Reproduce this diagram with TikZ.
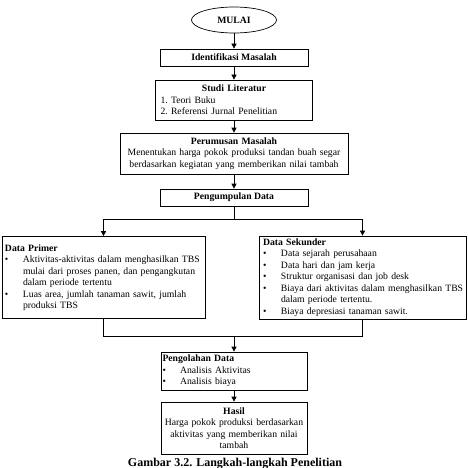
\documentclass[tikz,border=0pt]{standalone}
\usepackage{fontspec}
\setmainfont{Liberation Serif}
\usetikzlibrary{shapes.geometric,arrows.meta}
\newcommand\bitem[2]{\makebox[#1][l]{\textbullet}\mbox{#2}}
\newcommand\bcont[2]{\hspace*{#1}\mbox{#2}}
\begin{document}
\begin{tikzpicture}[x=1pt,y=-1pt,
  every node/.style={font=\fontsize{9.7}{11.5}\selectfont\frenchspacing},
  box/.style={draw, line width=0.7pt, inner ysep=0pt, inner xsep=0pt},
  arr/.style={line width=0.7pt, -{Triangle[length=5pt,width=5pt]}},
  ln/.style={line width=0.7pt}]
\useasboundingbox (0,0) rectangle (467,468);
\node[box, ellipse, minimum width=85pt, minimum height=26pt] (mulai) at (234,20) {\textbf{MULAI}};
\node[box, minimum width=148pt, minimum height=17pt] (ident) at (234,57.5) {\textbf{Identifikasi Masalah}};
\node[box, minimum width=157pt, minimum height=40pt, inner xsep=5pt, text width=147pt, align=left] (studi) at (234,100)
  {\makebox[\linewidth]{\textbf{Studi Literatur}}\\ 1. Teori Buku\\ 2. Referensi Jurnal Penelitian};
\node[box, minimum width=228pt, minimum height=41pt, text width=228pt, align=center] (rumus) at (234,153.5)
  {\textbf{Perumusan Masalah}\\ Menentukan harga pokok produksi tandan buah segar\\ berdasarkan kegiatan yang memberikan nilai tambah};
\node[box, minimum width=148pt, minimum height=17pt] (kumpul) at (234,197.5) {\textbf{Pengumpulan Data}};
\node[box, minimum width=203pt, minimum height=82pt, inner xsep=3pt, text width=197pt, align=left] (dp) at (103.5,277.5)
  {\textbf{Data Primer}\\
   \bitem{18pt}{Aktivitas-aktivitas dalam menghasilkan TBS}\\
   \bcont{18pt}{mulai dari proses panen, dan pengangkutan}\\
   \bcont{18pt}{dalam periode tertentu}\\
   \bitem{18pt}{Luas area, jumlah tanaman sawit, jumlah}\\
   \bcont{18pt}{produksi TBS}};
\node[box, minimum width=207pt, minimum height=83pt, inner xsep=4pt, text width=199pt, align=left] (ds) at (362.5,277.5)
  {\textbf{Data Sekunder}\\
   \bitem{18pt}{Data sejarah perusahaan}\\
   \bitem{18pt}{Data hari dan jam kerja}\\
   \bitem{18pt}{Struktur organisasi dan job desk}\\
   \bitem{18pt}{Biaya dari aktivitas dalam menghasilkan TBS}\\
   \bcont{18pt}{dalam periode tertentu.}\\
   \bitem{18pt}{Biaya depresiasi tanaman sawit.}};
\node[box, minimum width=146pt, minimum height=38pt, inner xsep=1.5pt, text width=143pt, align=left] (olah) at (234,371)
  {\textbf{Pengolahan Data}\\
   \bitem{17.5pt}{Analisis Aktivitas}\\
   \bitem{17.5pt}{Analisis biaya}};
\node[box, minimum width=146pt, minimum height=52pt, text width=146pt, align=center] (hasil) at (234,428)
  {\textbf{Hasil}\\ Harga pokok produksi berdasarkan\\ aktivitas yang memberikan nilai\\ tambah};
\node[font=\fontsize{12}{14}\selectfont\bfseries, anchor=base] (cap) at (235,466) {Gambar 3.2. Langkah-langkah Penelitian};
\draw[arr] (mulai) -- (ident);
\draw[arr] (ident) -- (studi);
\draw[arr] (studi) -- (rumus);
\draw[arr] (rumus) -- (kumpul);
\coordinate (split) at (234,219);
\draw[ln] (kumpul.south) -- (split);
\draw[arr] (split) -| (dp.north);
\draw[arr] (split) -| (ds.north);
\coordinate (merge) at (234,336);
\draw[ln] (dp.south) |- (merge);
\draw[ln] (ds.south) |- (merge);
\draw[arr] (merge) -- (olah.north);
\draw[arr] (olah) -- (hasil);
\end{tikzpicture}
\end{document}
